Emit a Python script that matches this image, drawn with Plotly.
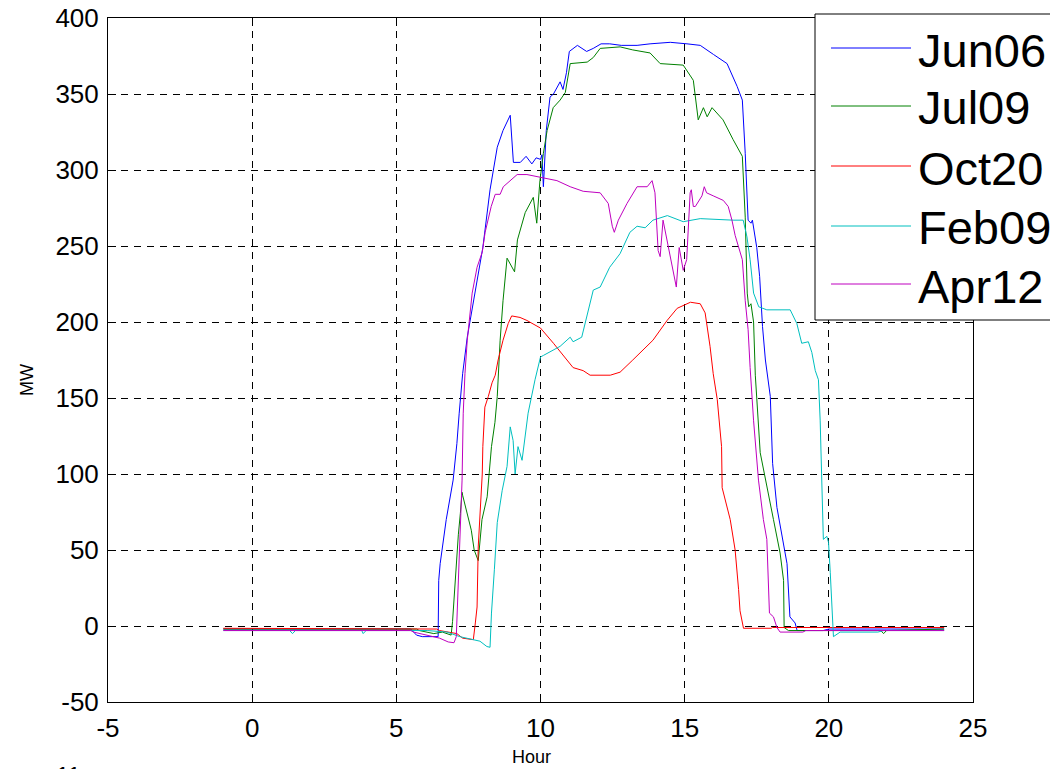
import plotly.graph_objects as go

# ---------------- data (hours, MW) ----------------
names = ["Jun06", "Jul09", "Oct20", "Feb09", "Apr12"]
colors = ["#0000FF", "#008000", "#FF0000", "#00BFBF", "#BF00BF"]

jun06_h = [-1, 5.5, 5.7, 5.9, 6.45, 6.47, 6.52, 6.66, 6.73, 6.97, 7.1, 7.18, 7.3, 7.46, 7.7, 7.85,
           8.0, 8.25, 8.5, 8.7, 8.95, 9.06, 9.3, 9.5, 9.7, 9.85, 10.0, 10.05, 10.1, 10.2, 10.33,
           10.45, 10.68, 10.78, 10.9, 11.0, 11.28, 11.6, 11.83, 12.1, 12.4, 12.8, 13.35, 13.8,
           14.5, 15.08, 15.54, 16.0, 16.47, 16.82, 17.0, 17.1, 17.2, 17.3, 17.35, 17.5, 17.6,
           17.7, 17.8, 17.97, 18.05, 18.2, 18.4, 18.55, 18.65, 18.83, 18.9, 19.8, 20.0, 24]
jun06_mw = [-2, -2, -6, -7, -7, 30, 41, 60, 70, 96, 120, 140, 166, 190, 216, 230,
            249, 287, 315, 326, 336, 305, 305, 309, 304, 308, 307, 310, 289, 326, 348,
            350, 358, 353, 364, 378, 382, 378, 380, 383, 383, 382, 382, 383,
            384, 383, 382, 376, 370, 355, 346, 311, 267, 265, 267, 249, 230,
            197, 175, 151, 107, 78, 57, 41, 6, 2, -3, -3, -2, -2]

jul09_h = [-1, 5.7, 5.8, 6.3, 6.6, 6.9, 6.95, 7.05, 7.15, 7.22, 7.28, 7.3, 7.45, 7.6, 7.7, 7.84,
           7.97, 8.15, 8.3, 8.42, 8.5, 8.6, 8.7, 8.84, 9.1, 9.2, 9.47, 9.75, 9.87, 9.98, 10.1,
           10.23, 10.44, 10.68, 10.86, 11.03, 11.62, 11.83, 12.07, 12.76, 13.2, 13.8, 14.15,
           14.95, 15.3, 15.47, 15.65, 15.78, 15.95, 16.33, 16.68, 17.0, 17.1, 17.17, 17.22,
           17.3, 17.39, 17.45, 17.62, 17.85, 18.08, 18.31, 18.43, 18.45, 18.6, 21.8, 21.9, 22.0, 24]
jul09_mw = [-2, -2, -3, -5, -4, -6, 3, 35, 60, 74, 88, 86, 74, 63, 50, 43,
            70, 85, 118, 134, 151, 188, 214, 242, 233, 254, 272, 282, 265, 293, 311,
            326, 341, 346, 351, 370, 371, 374, 380, 381, 379, 377, 370,
            369, 359, 333, 341, 335, 341, 333, 320, 309, 269, 219, 210,
            212, 200, 165, 114, 91, 70, 48, 30, -1, -3, -3, -5, -3, -2]

oct20_h = [-1, 6.4, 6.5, 7.1, 7.3, 7.67, 7.74, 7.8, 7.84, 7.9, 7.98, 8.0, 8.07, 8.19, 8.32,
           8.43, 8.53, 8.7, 8.88, 9.0, 9.29, 9.53, 10.0, 10.45, 10.92, 11.13, 11.48, 11.72,
           12.42, 12.76, 13.2, 13.9, 14.39, 14.74, 15.2, 15.54, 15.71, 15.88, 15.99, 16.13,
           16.28, 16.3, 16.58, 16.75, 16.87, 16.92, 17.04, 18.0, 18.05, 24]
oct20_mw = [-1.5, -2, -3, -5, -8, -9, 2, 12.5, 52, 70, 100, 118, 144, 151, 160,
            165, 175, 188, 199, 204, 203, 201, 196, 186, 175, 170, 168, 165,
            165, 167, 175, 188, 201, 209, 213, 212, 206, 184, 166, 149,
            118, 91, 70, 50, 24, 10, -1.5, -1.5, -1, -1]

feb09_h = [-1, 1.3, 1.4, 1.5, 3.8, 3.85, 3.95, 6.07, 6.76, 7.2, 7.9, 8.14, 8.25, 8.3, 8.4,
           8.45, 8.5, 8.67, 8.84, 8.95, 9.05, 9.12, 9.22, 9.36, 9.47, 9.57, 9.81, 10.0, 10.1,
           10.68, 11.03, 11.13, 11.43, 11.62, 11.83, 12.07, 12.4, 12.76, 13.1, 13.35, 13.63,
           13.9, 14.4, 14.95, 15.54, 16.68, 17.03, 17.16, 17.27, 17.39, 17.57, 17.85, 18.31,
           18.66, 18.89, 19.06, 19.29, 19.41, 19.53, 19.64, 19.7, 19.76, 19.81, 19.93, 19.99,
           20.05, 20.1, 20.16, 20.39, 21.7, 21.9, 24]
feb09_mw = [-3, -3, -5, -3, -3, -5, -3, -3, -4, -7, -10, -13.5, -14, 8.5, 37,
            54, 68, 89, 105, 131, 122, 100, 118, 109, 127, 140, 162, 177, 178,
            184, 190, 187, 190, 205, 221, 223, 236, 245, 259, 263, 262,
            267, 270, 266, 268, 267, 267, 256, 241, 219, 210, 208, 208,
            208, 199, 186, 187, 180, 168, 162, 135, 100, 57, 59, 55,
            35, 17, -7, -4, -4, -3, -3]

apr12_h = [-1, 5.5, 5.6, 6.0, 6.5, 6.8, 7.0, 7.08, 7.11, 7.15, 7.22, 7.28, 7.32, 7.38, 7.46,
           7.63, 7.8, 7.98, 8.08, 8.19, 8.29, 8.43, 8.6, 8.71, 9.05, 9.19, 9.53, 10.0, 10.57,
           11.03, 11.48, 12.07, 12.35, 12.49, 12.56, 12.7, 13.0, 13.35, 13.7, 13.87, 13.97,
           14.08, 14.15, 14.25, 14.39, 14.5, 14.71, 14.81, 14.95, 15.07, 15.19, 15.23, 15.3,
           15.37, 15.6, 15.68, 15.76, 15.99, 16.34, 16.51, 16.64, 16.75, 17.0, 17.1, 17.2,
           17.27, 17.39, 17.56, 17.73, 17.85, 17.94, 18.08, 18.2, 18.31, 19.1, 19.2, 24]
apr12_mw = [-3, -3, -4, -6, -8, -10.5, -11, -7, 8.5, 30, 63, 96, 140, 166, 188,
            219, 236, 246, 259, 267, 276, 284, 284, 289, 295, 297, 297, 295, 293,
            289, 286, 285, 278, 263, 259, 267, 278, 289, 289, 293, 285,
            247, 243, 267, 254, 243, 223, 249, 234, 241, 285, 287, 276,
            276, 283, 289, 285, 283, 280, 276, 267, 257, 241, 214, 195,
            170, 135, 96, 70, 57, 8.5, 6, -1, -4, -4, -3, -3]

series_h = [jun06_h, jul09_h, oct20_h, feb09_h, apr12_h]
series_mw = [jun06_mw, jul09_mw, oct20_mw, feb09_mw, apr12_mw]

x_ticks = [-5, 0, 5, 10, 15, 20, 25]
y_ticks = [-50, 0, 50, 100, 150, 200, 250, 300, 350, 400]

FONT = "Liberation Sans, Arial, sans-serif"

fig = go.Figure()
for name, color, h, mw in zip(names, colors, series_h, series_mw):
    fig.add_trace(go.Scatter(x=h, y=mw, mode="lines", name=name,
                             line=dict(color=color, width=1), showlegend=False))

axis_common = dict(
    showline=True, linecolor="black", linewidth=1, mirror="ticks",
    ticks="inside", ticklen=8, tickcolor="black", tickwidth=1,
    showgrid=True, gridcolor="black", gridwidth=1, griddash="7px,6px",
    zeroline=False, tickfont=dict(family=FONT, size=26, color="black"),
    ticklabeloverflow="allow",
)
fig.update_xaxes(range=[-5, 25], tickvals=x_ticks, ticktext=[str(v) for v in x_ticks],
                 ticklabelstandoff=3, **axis_common)
fig.update_yaxes(range=[-50, 400], tickvals=y_ticks, ticktext=[str(v) for v in y_ticks],
                 ticklabelstandoff=3, **axis_common)

# ---------------- layout in screen pixels (page body has an 8px offset) ----------------
OFF = 8
W, H = 1058, 769
SL, SR, ST, SB = 108, 973, 18, 702          # plot area on screen
L, T = SL - OFF, ST - OFF
R, B = W - (SR - OFF), H - (SB - OFF)
pw, ph = SR - SL, SB - ST


def px(x):
    return (x - SL) / pw


def py(y):
    return (SB - y) / ph


shapes = [dict(type="rect", xref="paper", yref="paper", x0=px(815), x1=px(1080),
               y0=py(320), y1=py(14), fillcolor="white", line=dict(color="black", width=1),
               layer="above")]
annotations = []
row_y = [48, 106, 166, 226, 284]
for name, color, ry in zip(names, colors, row_y):
    shapes.append(dict(type="line", xref="paper", yref="paper", x0=px(831), x1=px(911),
                       y0=py(ry), y1=py(ry), line=dict(color=color, width=1), layer="above"))
    annotations.append(dict(text=name, xref="paper", yref="paper", x=px(916), y=py(ry + 2),
                            xanchor="left", yanchor="middle", showarrow=False,
                            font=dict(family=FONT, size=47, color="black")))

annotations += [
    dict(text="Hour", xref="paper", yref="paper", x=px(531), y=py(757), xanchor="center",
         yanchor="middle", showarrow=False, font=dict(family=FONT, size=18, color="black")),
    dict(text="MW", xref="paper", yref="paper", x=px(27), y=py(380), xanchor="center",
         yanchor="middle", textangle=-90, showarrow=False,
         font=dict(family=FONT, size=18, color="black")),
    dict(text="11", xref="paper", yref="paper", x=px(68), y=py(760), xanchor="center",
         yanchor="top", showarrow=False, font=dict(family=FONT, size=24, color="black")),
]

fig.update_layout(
    width=W, height=H, margin=dict(l=L, r=R, t=T, b=B, autoexpand=False),
    paper_bgcolor="white", plot_bgcolor="white", showlegend=False,
    shapes=shapes, annotations=annotations,
    font=dict(family=FONT, size=24, color="black"),
)

fig.write_html("out.html")
